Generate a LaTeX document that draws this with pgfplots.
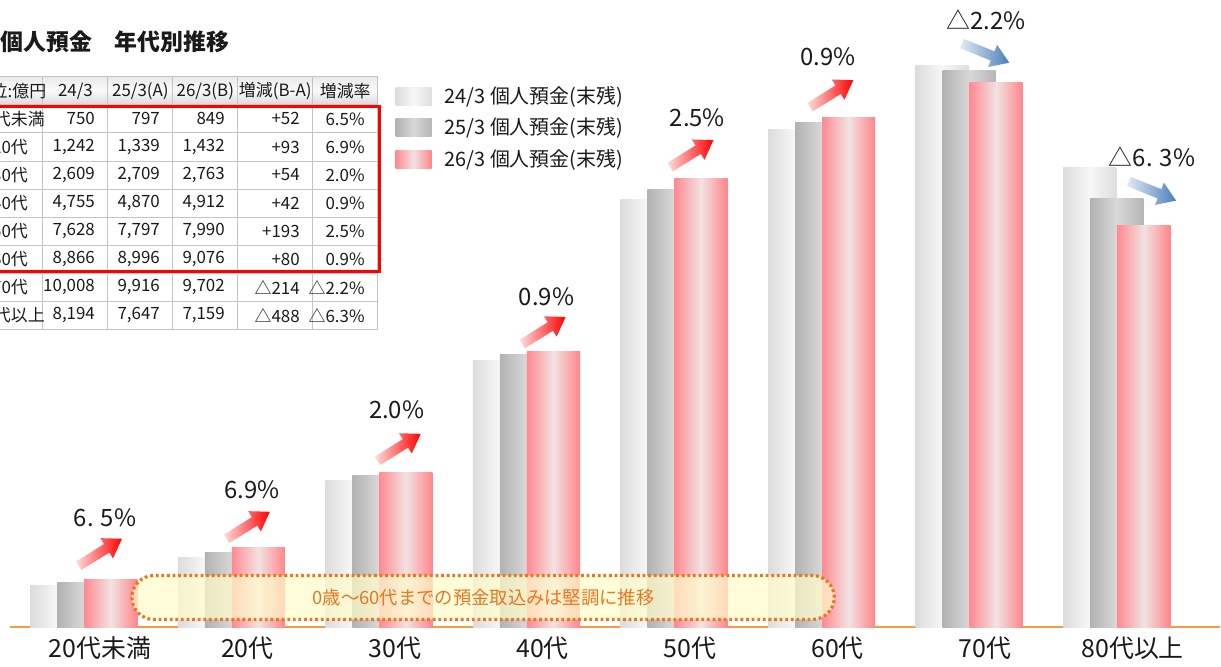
\documentclass[border=0pt]{standalone}
\usepackage{fontspec}
\setmainfont{Noto Sans CJK JP}
\usepackage{pgfplots}
\pgfplotsset{compat=1.18}
\usepackage{pgfplotstable}

\definecolor{lgA}{HTML}{DCDCDC}
\definecolor{lgB}{HTML}{F7F7F7}
\definecolor{lgC}{HTML}{DEDEDE}
\definecolor{dgA}{HTML}{B2B2B2}
\definecolor{dgB}{HTML}{D8D8D8}
\definecolor{dgC}{HTML}{B6B6B6}
\definecolor{rdA}{HTML}{FF8A90}
\definecolor{rdB}{HTML}{F2E2E3}
\definecolor{rdC}{HTML}{FF8589}
\definecolor{axisor}{HTML}{F59A45}
\definecolor{boxor}{HTML}{E8781E}
\definecolor{boxfill}{HTML}{FFFBCC}
\definecolor{gridg}{HTML}{C4C4C4}
\definecolor{hdA}{HTML}{EAEAEA}
\definecolor{hdB}{HTML}{FAFAFA}
\definecolor{hdC}{HTML}{D9D9D9}
\definecolor{arrtailR}{HTML}{FFDCDC}
\definecolor{arrtailB}{HTML}{E2EAF4}
\definecolor{arrheadB}{HTML}{4A7EBB}
\definecolor{txt}{HTML}{1A1A1A}

\pgfplotstableread{
x a b c
0 750 797 849
1 1242 1339 1432
2 2609 2709 2763
3 4755 4870 4912
4 7628 7797 7990
5 8866 8996 9076
6 10008 9916 9702
7 8194 7647 7159
}\deposits

\tikzset{
  lightbar/.style={left color=lgA, right color=lgC, middle color=lgB},
  darkbar/.style={left color=dgA, right color=dgC, middle color=dgB},
  redbar/.style={left color=rdA, right color=rdC, middle color=rdB},
}

\newcommand{\fatarrow}[5]{%
  \begin{scope}[shift={(#1,#2)}, rotate=#3]
    \path[left color=#4, right color=#5]
      (-25,-5) -- (8,-5) -- (8,-12) -- (26,0) -- (8,12) -- (8,5) -- (-25,5) -- cycle;
  \end{scope}}

\newcommand{\tfont}{\fontsize{8.5}{9}\selectfont}
\newcommand{\trow}[7]{%
  \node[font=\tfont, text=txt] at (10,#1) {#2};
  \node[font=\tfont, text=txt, anchor=east] at (102,#1) {#3};
  \node[font=\tfont, text=txt, anchor=east] at (167,#1) {#4};
  \node[font=\tfont, text=txt, anchor=east] at (232,#1) {#5};
  \node[font=\tfont, text=txt, anchor=east] at (307,#1) {#6};
  \node[font=\tfont, text=txt, anchor=east] at (372,#1) {#7};}

\begin{document}
\begin{tikzpicture}
\begin{scope}[x=0.5bp, y=-0.5bp]
  \useasboundingbox (0,0) rectangle (1221,662);
  % title
  \node[anchor=west, font=\fontsize{11.5}{12}\selectfont\bfseries, text=txt, inner sep=0pt] at (0,42) {個人預金　年代別推移};
  % table header
  \path[top color=hdA, bottom color=hdC, middle color=hdB] (-30,77) rectangle (378,105);
  \foreach \yy in {77,105,133.1,161.2,189.3,217.4,245.5,273.6,301.7,329.8}
    \draw[gridg, line width=0.5bp] (-30,\yy) -- (378,\yy);
  \foreach \xx in {43,108,173,238,313,378}
    \draw[gridg, line width=0.5bp] (\xx,77) -- (\xx,329.8);
  \node[font=\tfont, text=txt] at (10,91) {単位:億円};
  \node[font=\tfont, text=txt] at (75.5,91) {24/3};
  \node[font=\tfont, text=txt] at (140.5,91) {25/3(A)};
  \node[font=\tfont, text=txt] at (205.5,91) {26/3(B)};
  \node[font=\tfont, text=txt] at (275.5,91) {増減(B-A)};
  \node[font=\tfont, text=txt] at (345.5,91) {増減率};
  \trow{119}{20代未満}{750}{797}{849}{+52}{6.5\%}
  \trow{147.1}{20代}{1,242}{1,339}{1,432}{+93}{6.9\%}
  \trow{175.2}{30代}{2,609}{2,709}{2,763}{+54}{2.0\%}
  \trow{203.3}{40代}{4,755}{4,870}{4,912}{+42}{0.9\%}
  \trow{231.4}{50代}{7,628}{7,797}{7,990}{+193}{2.5\%}
  \trow{259.5}{60代}{8,866}{8,996}{9,076}{+80}{0.9\%}
  \trow{287.6}{70代}{10,008}{9,916}{9,702}{△214}{△2.2\%}
  \trow{315.7}{80代以上}{8,194}{7,647}{7,159}{△488}{△6.3\%}
  \draw[red, line width=1.5bp] (-10,107) rectangle (380,272);
  % legend
  \path[lightbar] (396,88) rectangle (432,106);
  \path[darkbar] (396,119) rectangle (432,137);
  \path[redbar] (396,151) rectangle (432,169);
  \node[anchor=west, font=\fontsize{10}{10}\selectfont, text=txt] at (438,97) {24/3 個人預金(末残)};
  \node[anchor=west, font=\fontsize{10}{10}\selectfont, text=txt] at (438,128) {25/3 個人預金(末残)};
  \node[anchor=west, font=\fontsize{10}{10}\selectfont, text=txt] at (438,160) {26/3 個人預金(末残)};
\end{scope}

\begin{axis}[
  at={(5bp,-314bp)}, anchor=south west,
  scale only axis, width=605.5bp, height=314bp,
  xmin=-0.5, xmax=7.7, ymin=0, ymax=11175,
  axis y line=none, axis x line*=bottom,
  axis line style={draw=axisor, line width=1bp, -},
  xtick={0,...,7},
  xticklabels={20代未満,20代,30代,40代,50代,60代,70代,80代以上},
  major tick length=0pt,
  xticklabel style={font=\fontsize{12.5}{13}\selectfont, text=txt, xshift=8bp, yshift=-1bp},
  clip=false,
]
\pgfplotsinvokeforeach{0,...,7}{
\addplot[ybar, bar width=0.36, bar shift=-0.183, draw=none, forget plot,
  restrict x to domain=#1:#1, lightbar] table[x=x, y=a] {\deposits};
}
\pgfplotsinvokeforeach{0,...,7}{
\addplot[ybar, bar width=0.36, bar shift=0, draw=none, forget plot,
  restrict x to domain=#1:#1, darkbar] table[x=x, y=b] {\deposits};
}
\pgfplotsinvokeforeach{0,...,7}{
\addplot[ybar, bar width=0.36, bar shift=0.183, draw=none, forget plot,
  restrict x to domain=#1:#1, redbar] table[x=x, y=c] {\deposits};
}
\end{axis}

\begin{scope}[x=0.5bp, y=-0.5bp]
  % note box
  \draw[boxor, line width=1.6bp, dash pattern=on 1.4bp off 1.4bp, rounded corners=11bp,
        fill=boxfill, fill opacity=0.72] (132,576) rectangle (835,620);
  \node[text=boxor, font=\fontsize{9.2}{9.2}\selectfont] at (484,598) {0歳～60代までの預金取込みは堅調に推移};
  % arrows
  \fatarrow{100}{553}{32}{arrtailR}{red}
  \fatarrow{248}{526}{32}{arrtailR}{red}
  \fatarrow{399}{448}{32}{arrtailR}{red}
  \fatarrow{544}{331}{32}{arrtailR}{red}
  \fatarrow{692}{154}{32}{arrtailR}{red}
  \fatarrow{832}{94}{32}{arrtailR}{red}
  \fatarrow{986}{53}{-22}{arrtailB}{arrheadB}
  \fatarrow{1153}{191}{-22}{arrtailB}{arrheadB}
  % labels
  \begin{scope}[every node/.style={font=\fontsize{12}{12}\selectfont, text=txt}]
    \node at (105,518) {6. 5\%};
    \node at (252,490) {6.9\%};
    \node at (397,410) {2.0\%};
    \node at (547,297) {0.9\%};
    \node at (698,118) {2.5\%};
    \node at (829,57) {0.9\%};
    \node at (987,20) {△2.2\%};
    \node at (1153,157) {△6. 3\%};
  \end{scope}
\end{scope}
\end{tikzpicture}
\end{document}
